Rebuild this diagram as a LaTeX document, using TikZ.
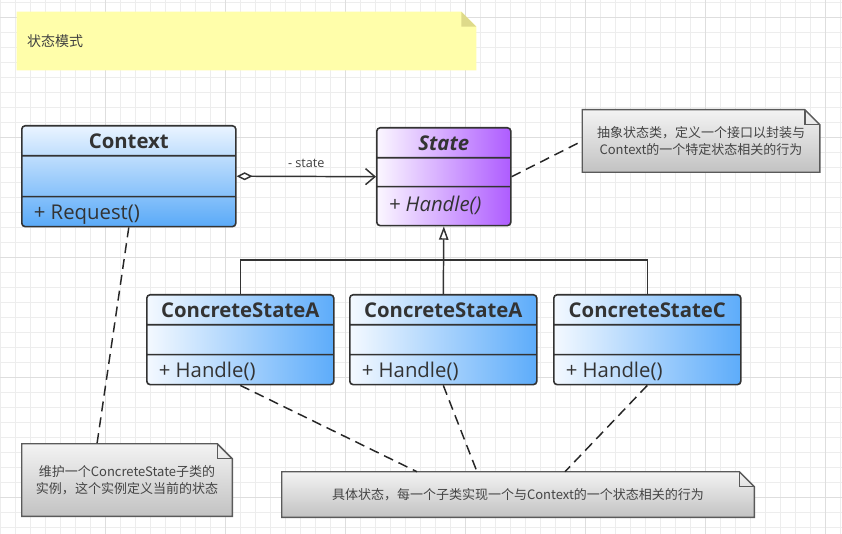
\documentclass[tikz,border=0pt]{standalone}
\usepackage{fontspec}
\setmainfont{Open Sans}
\newfontfamily\cjk{Noto Sans CJK SC}
\usetikzlibrary{arrows.meta,shapes.multipart}
\pgfdeclarelayer{grid}
\pgfdeclarelayer{paper}
\pgfsetlayers{grid,paper,main}

\definecolor{ctxtop}{HTML}{EAF4FF}
\definecolor{ctxbot}{HTML}{5AAAF8}
\definecolor{cslight}{HTML}{F4F9FF}
\definecolor{csdark}{HTML}{5DACFA}
\definecolor{stlight}{HTML}{FBF7FF}
\definecolor{stdark}{HTML}{AE5CFF}
\definecolor{notetop}{HTML}{F3F3F3}
\definecolor{notebot}{HTML}{C2C2C2}
\definecolor{noteline}{HTML}{5A5A5A}
\definecolor{notetxt}{HTML}{444444}
\definecolor{memo}{HTML}{FFFEAA}
\definecolor{memofold}{HTML}{DEDA8A}

\begin{document}
\begin{tikzpicture}[
  x=.75pt, y=-.75pt,
  gridline/.style={draw=black!7, line width=.6pt},
  gridmajor/.style={draw=black!13, line width=.6pt},
  cls/.style={rectangle split, rectangle split parts=3, draw=black!80, line width=1.2pt,
    rounded corners=2.5pt, inner xsep=9pt, inner ysep=0pt, text=black!80,
    font=\fontsize{15.25}{17}\selectfont},
  bluev/.style={top color=ctxtop, bottom color=ctxbot},
  blueh/.style={left color=cslight, right color=csdark},
  purph/.style={left color=stlight, right color=stdark},
  notetext/.style={text=notetxt, font=\cjk\fontsize{9.75}{13}\selectfont, align=center, inner sep=0pt},
  notebody/.style={draw=noteline, line width=1.1pt, top color=notetop, bottom color=notebot},
  notefold/.style={draw=noteline, line width=1.1pt},
  agg/.style={black!80, line width=1.1pt, {Diamond[fill=white,length=12pt,width=6pt]}-{Straight Barb[length=7pt,width=12pt]}},
  tree/.style={black!80, line width=1.1pt},
  inherit/.style={black!80, line width=1.1pt, -{Triangle[open,length=10pt,width=7pt]}},
  hint/.style={black!85, line width=1.1pt, dash pattern=on 7.5pt off 4.5pt}
]
\useasboundingbox (0,0) rectangle (842,534);

% grid paper
\begin{pgfonlayer}{grid}
  \fill[white] (0,0) rectangle (842,534);
  \foreach \gx in {0,15,...,840} \draw[gridline] (\gx,0) -- (\gx,534);
  \foreach \gy in {2,17,...,532} \draw[gridline] (0,\gy) -- (842,\gy);
  \foreach \gx in {105,225,...,825} \draw[gridmajor] (\gx,0) -- (\gx,534);
  \foreach \gy in {17,137,...,497} \draw[gridmajor] (0,\gy) -- (842,\gy);
\end{pgfonlayer}

% title memo
\node[text=black!75, font=\cjk\fontsize{10.5}{12}\selectfont, text width=329.25pt, align=left,
  inner xsep=7.5pt, minimum height=43.5pt] (memo) at (246.5,41) {状态模式};

% classes
\node[cls, bluev, anchor=north west] (context) at (21,125)
  {\makebox[142.5pt]{\bfseries\rule[-5pt]{0pt}{21.25pt}Context}%
   \nodepart{two}\rule{0pt}{29.5pt}%
   \nodepart{three}\makebox[142.5pt][l]{\rule[-5pt]{0pt}{21.25pt}+ Request()}};

\node[cls, purph, anchor=north west] (state) at (376,127)
  {\makebox[82.5pt]{\bfseries\itshape\rule[-5pt]{0pt}{21.25pt}State}%
   \nodepart{two}\rule{0pt}{20.5pt}%
   \nodepart{three}\makebox[82.5pt][l]{\itshape\rule[-10pt]{0pt}{28pt}+ Handle()}};

\foreach \n/\x/\t in {csa/146/ConcreteStateA, csb/349/ConcreteStateA, csc/553/ConcreteStateC}
  \node[cls, blueh, anchor=north west] (\n) at (\x,294)
    {\makebox[122.25pt]{\bfseries\rule[-4.5pt]{0pt}{21.25pt}\t}%
     \nodepart{two}\rule{0pt}{21.25pt}%
     \nodepart{three}\makebox[122.25pt][l]{\rule[-4.5pt]{0pt}{21.25pt}+ Handle()}};

% notes
\node[notetext, minimum width=177.75pt, minimum height=46.5pt] (anote) at (701,141)
  {抽象状态类，定义一个接口以封装与\\Context的一个特定状态相关的行为};
\node[notetext, minimum width=157.5pt, minimum height=54pt] (lnote) at (127,480)
  {维护一个ConcreteState子类的\\实例，这个实例定义当前的状态};
\node[notetext, minimum width=354pt, minimum height=33.75pt] (bnote) at (518,494.5)
  {具体状态，每一个子类实现一个与Context的一个状态相关的行为};

\begin{pgfonlayer}{paper}
  \fill[memo] (memo.north west) -- ([xshift=-11.25pt]memo.north east)
    -- ([yshift=-11.25pt]memo.north east) -- (memo.south east) -- (memo.south west) -- cycle;
  \fill[memofold] ([xshift=-11.25pt]memo.north east) -- ([yshift=-11.25pt]memo.north east)
    -- ([xshift=-11.25pt,yshift=-11.25pt]memo.north east) -- cycle;
  \foreach \n in {anote,lnote,bnote} {
    \draw[notebody] (\n.north west) -- ([xshift=-11.25pt]\n.north east)
      -- ([yshift=-11.25pt]\n.north east) -- (\n.south east) -- (\n.south west) -- cycle;
    \draw[notefold] ([xshift=-11.25pt]\n.north east) -- ([xshift=-11.25pt,yshift=-11.25pt]\n.north east)
      -- ([yshift=-11.25pt]\n.north east);
  }
\end{pgfonlayer}

% relations
\draw[agg] (context.east) -- (state.west)
  node[midway, above=3pt, text=black!75, font=\fontsize{9.5}{11}\selectfont] {- state};

\coordinate (fork) at (443,260);
\draw[inherit] (csb.north) -- (state.south);
\draw[tree] (csa.north) |- (fork) -| (csc.north);

\draw[hint] (state.east) -- (anote.west);
\draw[hint] (context.south) -- ([xshift=-22.5pt]lnote.north);
\draw[hint] (csa.south) -- ([xshift=-75.75pt]bnote.north);
\draw[hint] (csb.south) -- ([xshift=-30.75pt]bnote.north);
\draw[hint] (csc.south) -- ([xshift=35.25pt]bnote.north);

\end{tikzpicture}
\end{document}
